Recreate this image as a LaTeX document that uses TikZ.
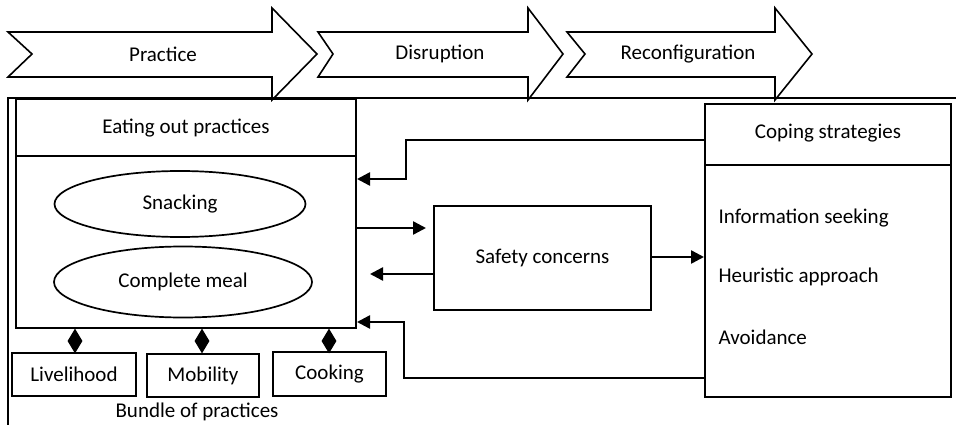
\documentclass[tikz,border=0pt]{standalone}
\usepackage{fontspec}
\setmainfont{Carlito}
\usepackage{tikz}
\usetikzlibrary{arrows.meta,shapes.geometric}

\tikzset{
  chev/.style={draw, line width=1.6pt, line join=miter},
  box/.style={draw, line width=2pt, rectangle, inner sep=0pt},
  oval/.style={draw, line width=1.7pt, ellipse, inner sep=0pt},
  conn/.style={line width=2.5pt, -{Triangle[length=13pt,width=13pt]}},
  knot/.style={diamond, fill=black, inner sep=0pt, minimum width=15pt, minimum height=25pt},
}
\newcommand{\chevron}[4]{%
  \draw[chev] (#1,32) -- (#3,32) -- (#3,8) -- (#4,54) -- (#3,100) -- (#3,77) -- (#1,77) -- (#2,54) -- cycle;}

\begin{document}
\begin{tikzpicture}[x=1pt, y=-1pt, font=\fontsize{21}{25}\selectfont]
\useasboundingbox (0,0) rectangle (956,425);
\chevron{8}{32}{272}{317}
\chevron{318}{333}{528}{563}
\chevron{567}{585}{775}{812}
\node (practice) at (163,54) {Practice};
\node (disrupt) at (440,54) {Disruption};
\node (reconf) at (688,54) {Reconfiguration};
\draw[line width=2pt] (8,425) -- (8,98) -- (956,98);

\node[box, minimum width=340pt, minimum height=229pt] (eat) at (186,213.5) {};
\draw[line width=2pt] (eat.west |- 0,156) -- (eat.east |- 0,156);
\node (eattitle) at (186,128) {Eating out practices};
\node[oval, minimum width=251pt, minimum height=66pt] (snack) at (180,204) {Snacking};
\node[oval, minimum width=258pt, minimum height=71pt] (meal) at (183,282) {Complete meal};

\node[box, minimum width=124pt, minimum height=43pt] (live) at (74,374.5) {Livelihood};
\node[box, minimum width=112pt, minimum height=43pt] (mob) at (203,375.5) {Mobility};
\node[box, minimum width=113pt, minimum height=44pt] (cook) at (329.5,374) {Cooking};
\node[knot] (k1) at (75,341) {};
\node[knot] (k2) at (202,341) {};
\node[knot] (k3) at (329,341) {};
\node (bundle) at (197,412) {Bundle of practices};

\node[box, minimum width=217pt, minimum height=104pt] (safe) at (542.5,258) {Safety concerns};

\node[box, minimum width=246pt, minimum height=293pt] (cope) at (828,250.5) {};
\draw[line width=2pt] (cope.west |- 0,165) -- (cope.east |- 0,165);
\node (copetitle) at (828,133) {Coping strategies};
\node[anchor=west] (info) at (715,218) {Information seeking};
\node[anchor=west] (heur) at (715,277) {Heuristic approach};
\node[anchor=west] (avoid) at (715,337) {Avoidance};

\draw[conn, shorten >=7pt] (eat.east |- 0,228) -- (safe.west |- 0,228);
\draw[conn, shorten >=13pt] (safe.west |- 0,274) -- (eat.east |- 0,274);
\draw[conn] (safe.east |- 0,257) -- (cope.west |- 0,257);
\draw[conn] (cope.west |- 0,140) -- (406,140) -- (406,179) -- (eat.east |- 0,179);
\draw[conn] (cope.west |- 0,378) -- (404,378) -- (404,322) -- (eat.east |- 0,322);
\end{tikzpicture}
\end{document}
